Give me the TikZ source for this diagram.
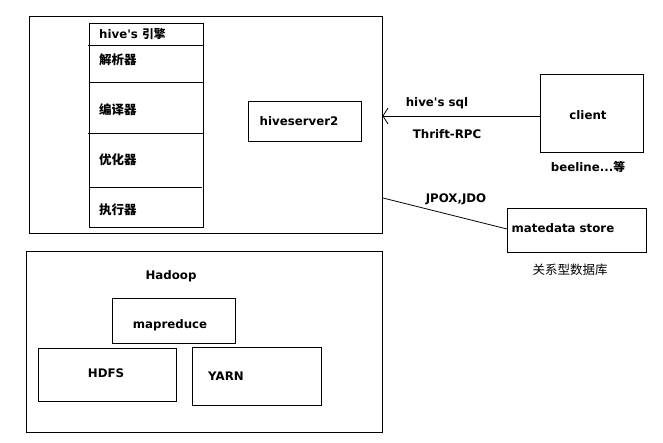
\documentclass[tikz,border=0pt]{standalone}
\usepackage{fontspec}
\setmainfont{DejaVu Sans}
\newfontfamily\lat{DejaVu Sans}
\newfontfamily\cjk{Noto Sans CJK SC}
\usetikzlibrary{arrows.meta}
\tikzset{
  box/.style={draw, line width=0.9pt},
  lab/.style={font=\fontsize{11.8}{13}\selectfont\lat\bfseries, inner sep=0pt},
  clab/.style={font=\fontsize{12.5}{14}\selectfont\cjk\bfseries, inner sep=0pt},
  clabreg/.style={font=\fontsize{12.5}{14}\selectfont\cjk, inner sep=0pt},
  conn/.style={line width=0.8pt},
}
\begin{document}
\begin{tikzpicture}[x=1pt,y=-1pt]
\useasboundingbox (0,0) rectangle (663,443);
% outer hive box
\node[box, minimum width=353pt, minimum height=217pt, anchor=north west] (hive) at (29,16) {};
% engine column
\node[box, minimum width=114pt, minimum height=204pt, anchor=north west] (engine) at (89,23) {};
\coordinate (d1l) at (88,45);  \coordinate (d1r) at (203,45);
\coordinate (d2l) at (89,82);  \coordinate (d2r) at (203,82);
\coordinate (d3l) at (88,133); \coordinate (d3r) at (203,133);
\coordinate (d4l) at (89,187); \coordinate (d4r) at (202,187);
\draw[conn] (d1l) -- (d1r);
\draw[conn] (d2l) -- (d2r);
\draw[conn] (d3l) -- (d3r);
\draw[conn] (d4l) -- (d4r);
\node[lab, anchor=west] (eng) at (99,34) {hive's {\cjk\bfseries 引擎}};
\node[clab, anchor=west] (jx) at (99,60) {解析器};
\node[clab, anchor=west] (by) at (99,110) {编译器};
\node[clab, anchor=west] (yh) at (99,160) {优化器};
\node[clab, anchor=west] (zx) at (99,210) {执行器};
% hiveserver2
\node[box, minimum width=113pt, minimum height=40pt, anchor=north west] (hs2) at (248,101) {};
\node[lab] (hs2t) at (299,121) {hiveserver2};
% client
\node[box, minimum width=103pt, minimum height=78pt, anchor=north west] (client) at (540,74) {};
\node[lab] (clientt) at (588,115) {client};
\node[lab] (beeline) at (588,167) {beeline...{\cjk\bfseries 等}};
\coordinate (cl) at (540,116);
\coordinate (hr) at (382.5,116);
\draw[conn, -{Straight Barb[length=5pt,width=16pt,line width=0.8pt]}] (cl) -- (hr);
\node[lab] (sql) at (437,103) {hive's sql};
\node[lab] (rpc) at (447,134) {Thrift-RPC};
% metadata store
\node[box, minimum width=139pt, minimum height=44pt, anchor=north west] (meta) at (507,208) {};
\node[lab] (metat) at (563,228) {matedata store};
\node[clabreg] (rdb) at (570,270) {关系型数据库};
\coordinate (ms) at (383,198);
\coordinate (me) at (507,229);
\draw[conn] (ms) -- (me);
\node[lab] (jpox) at (456,199) {JPOX,JDO};
% hadoop
\node[box, minimum width=356pt, minimum height=181pt, anchor=north west] (hadoop) at (26,251) {};
\node[lab] (hadoopt) at (171,276) {Hadoop};
\node[box, minimum width=123pt, minimum height=45pt, anchor=north west] (mr) at (112,298) {};
\node[lab] (mrt) at (170,325) {mapreduce};
\node[box, minimum width=138pt, minimum height=53pt, anchor=north west] (hdfs) at (38,348) {};
\node[lab] (hdfst) at (106,373) {HDFS};
\node[box, minimum width=129pt, minimum height=58pt, anchor=north west] (yarn) at (192,347) {};
\node[lab] (yarnt) at (226,376) {YARN};
\end{tikzpicture}
\end{document}
